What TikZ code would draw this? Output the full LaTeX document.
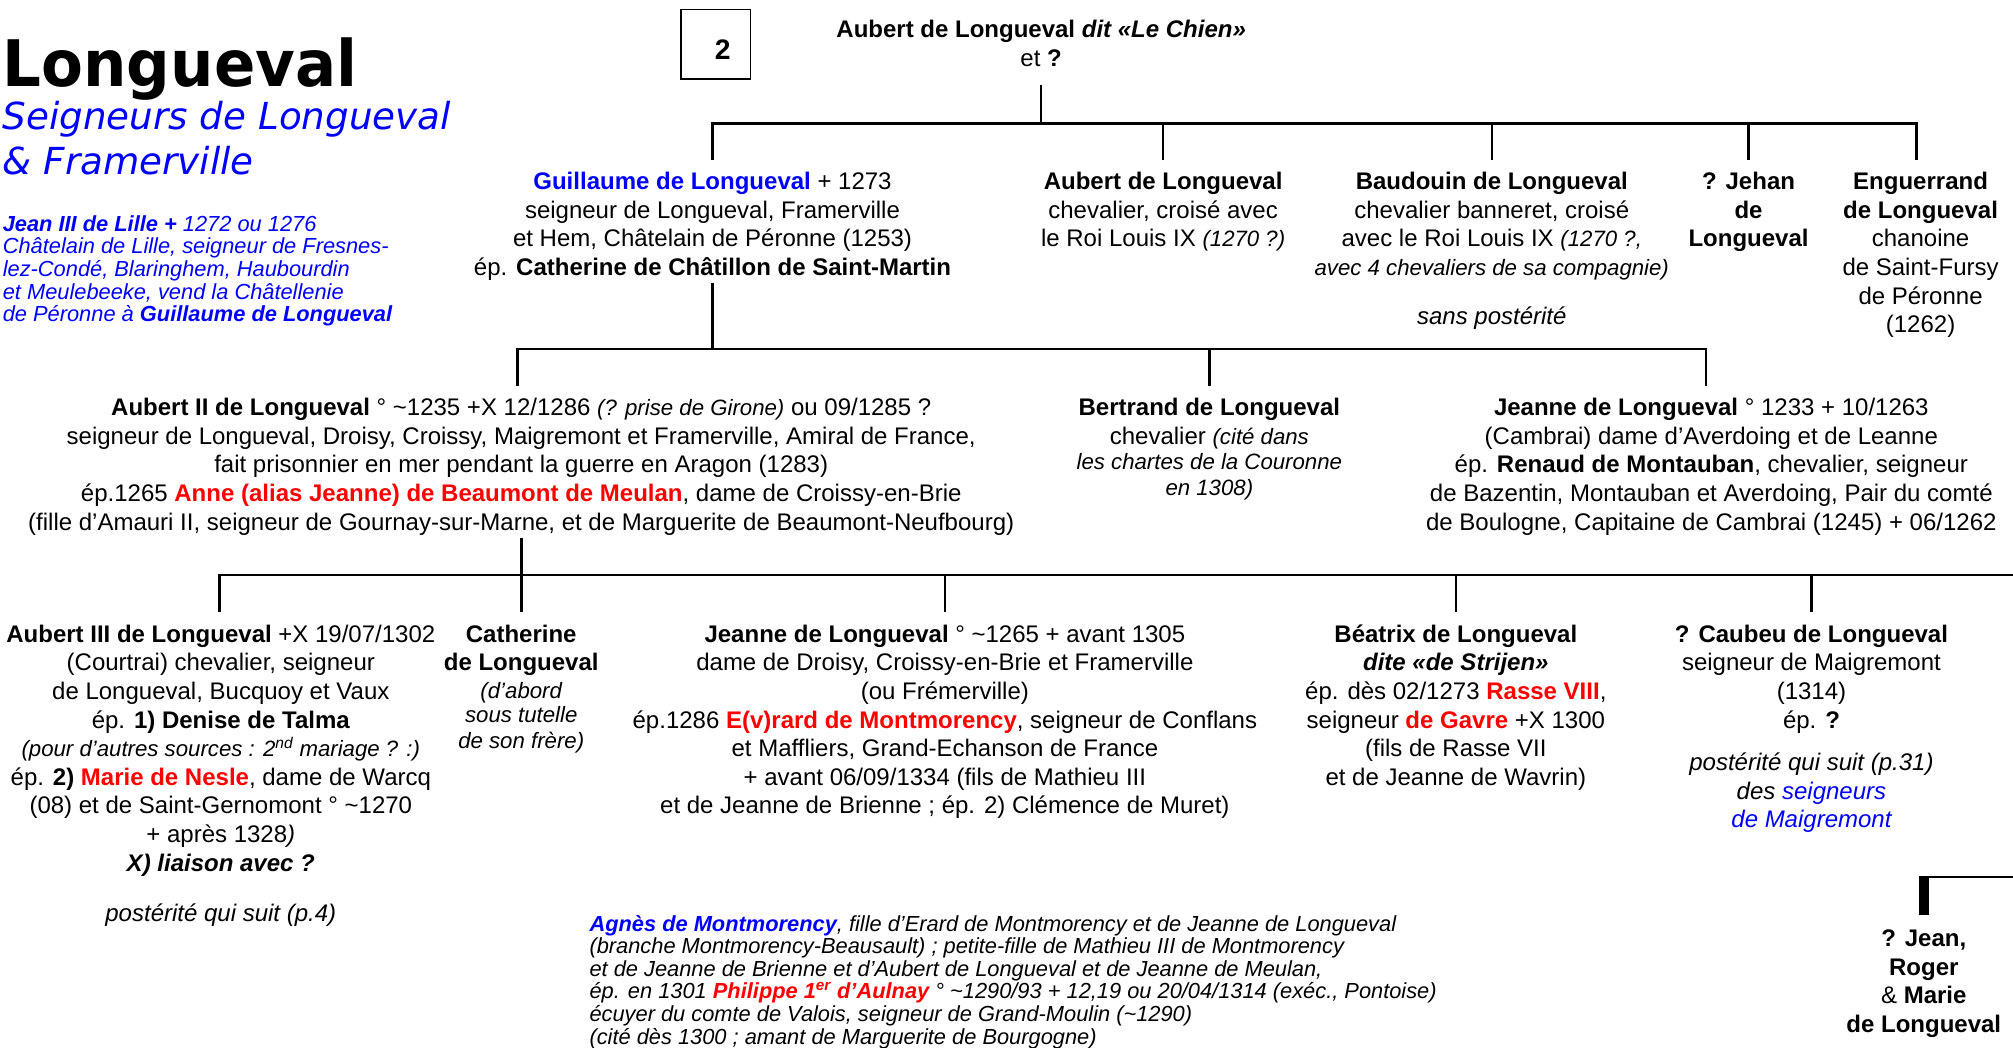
\documentclass[tikz,border=0pt]{standalone}
\usepackage{fontspec}
\setmainfont{Liberation Sans}
\newfontfamily\titlefont{DejaVu Sans}[FakeStretch=0.95]
\newfontfamily\dejavu{DejaVu Sans}
\definecolor{myblue}{RGB}{0,0,255}
\definecolor{myred}{RGB}{255,0,0}
\newcommand\fst{\rule{0pt}{16pt}}
\newcommand\sst{\rule{0pt}{13pt}}
\newcommand\tl{\textasciitilde}
\newcommand\sI[1]{{\fontsize{17.3}{18}\selectfont\itshape #1}}
\newcommand\Rd[1]{\textcolor{myred}{\bfseries #1}}
\newcommand\Bl[1]{\textcolor{myblue}{#1}}
\tikzset{
  person/.style={font=\fontsize{18.7}{22.3}\selectfont, align=center, inner sep=0pt, anchor=north},
  note/.style={font=\fontsize{17}{17.6}\selectfont\itshape, align=left, inner sep=0pt, anchor=north west},
  conn/.style={line width=2pt},
}
\begin{document}
\begin{tikzpicture}[x=1pt,y=-1pt]
\path[fill=white] (0,0) rectangle (1568,816);
\useasboundingbox (0,0) rectangle (1568,816);

% titles
\node[anchor=base west, inner sep=0pt, font=\titlefont\bfseries\fontsize{50}{50}\selectfont] (title) at (2,67) {Longueval};
\node[anchor=north west, inner sep=0pt, align=left, text=myblue, font=\dejavu\itshape\fontsize{29}{34.5}\selectfont] (sub) at (2,77) {\rule{0pt}{24pt}Seigneurs de Longueval\\\& Framerville};
\node[note, text=myblue] (lille) at (2,167) {\sst\textbf{Jean III de Lille +} 1272 ou 1276\\Châtelain de Lille, seigneur de Fresnes-\\lez-Condé, Blaringhem, Haubourdin\\et Meulebeeke, vend la Châtellenie\\de Péronne à \textbf{Guillaume de Longueval}};

% page number box
\node[draw, line width=1.3pt, minimum width=54pt, minimum height=54pt, inner sep=0pt] (box2) at (557.5,34.3) {};
\node[inner sep=0pt, font=\bfseries\fontsize{22}{22}\selectfont] (num2) at (563,39) {2};

% generation 1
\node[person] (top) at (811,13) {\fst\textbf{Aubert de Longueval \textit{dit «Le Chien»}}\\et \textbf{?}};

% generation 2
\node[person] (guill) at (555,131.5) {\fst\Bl{\textbf{Guillaume de Longueval}} + 1273\\seigneur de Longueval, Framerville\\et Hem, Châtelain de Péronne (1253)\\ép. \textbf{Catherine de Châtillon de Saint-Martin}};
\node[person] (aub1) at (906,131.5) {\fst\textbf{Aubert de Longueval}\\chevalier, croisé avec\\le Roi Louis IX \sI{(1270 ?)}};
\node[person] (baud) at (1162,131.5) {\fst\textbf{Baudouin de Longueval}\\chevalier banneret, croisé\\avec le Roi Louis IX \sI{(1270 ?,}\\\sI{avec 4 chevaliers de sa compagnie)}\\[15.7pt]\textit{sans postérité}};
\node[person] (jehan) at (1362,131.5) {\fst\textbf{? Jehan}\\\textbf{de}\\\textbf{Longueval}};
\node[person] (eng) at (1496,131.5) {\fst\textbf{Enguerrand}\\\textbf{de Longueval}\\chanoine\\de Saint-Fursy\\de Péronne\\(1262)};

% generation 3
\node[person] (aub2) at (406,307.5) {\fst\textbf{Aubert II de Longueval} ° \tl1235 +X 12/1286 \sI{(? prise de Girone)} ou 09/1285 ?\\seigneur de Longueval, Droisy, Croissy, Maigremont et Framerville, Amiral de France,\\fait prisonnier en mer pendant la guerre en Aragon (1283)\\ép.1265 \Rd{Anne (alias Jeanne) de Beaumont de Meulan}, dame de Croissy-en-Brie\\(fille d’Amauri II, seigneur de Gournay-sur-Marne, et de Marguerite de Beaumont-Neufbourg)};
\node[person] (bert) at (942,307.5) {\fst\textbf{Bertrand de Longueval}\\chevalier \sI{(cité dans}\\[-2.5pt]\sI{les chartes de la Couronne}\\[-2pt]\sI{en 1308)}};
\node[person] (jeanne1) at (1333,307.5) {\fst\textbf{Jeanne de Longueval} ° 1233 + 10/1263\\(Cambrai) dame d’Averdoing et de Leanne\\ép. \textbf{Renaud de Montauban}, chevalier, seigneur\\de Bazentin, Montauban et Averdoing, Pair du comté\\de Boulogne, Capitaine de Cambrai (1245) + 06/1262};

% generation 4
\node[person] (aub3) at (172,484) {\fst\textbf{Aubert III de Longueval} +X 19/07/1302\\(Courtrai) chevalier, seigneur\\de Longueval, Bucquoy et Vaux\\ép. \textbf{1) Denise de Talma}\\\sI{(pour d’autres sources : 2\textsuperscript{nd} mariage ? :)}\\ép. \textbf{2)} \Rd{Marie de Nesle}, dame de Warcq\\(08) et de Saint-Gernomont ° \tl1270\\+ après 1328\textit{)}\\\textbf{\textit{X) liaison avec ?}}\\[16.7pt]\textit{postérité qui suit (p.4)}};
\node[person] (cath) at (406,484) {\fst\textbf{Catherine}\\\textbf{de Longueval}\\[-1pt]\sI{(d’abord}\\[-3pt]\sI{sous tutelle}\\[-2pt]\sI{de son frère)}};
\node[person] (jeanne2) at (736,484) {\fst\textbf{Jeanne de Longueval} ° \tl1265 + avant 1305\\dame de Droisy, Croissy-en-Brie et Framerville\\(ou Frémerville)\\ép.1286 \Rd{E(v)rard de Montmorency}, seigneur de Conflans\\et Maffliers, Grand-Echanson de France\\+ avant 06/09/1334 (fils de Mathieu III\\et de Jeanne de Brienne ; ép. 2) Clémence de Muret)};
\node[person] (beat) at (1134,484) {\fst\textbf{Béatrix de Longueval}\\\textbf{\textit{dite «de Strijen»}}\\ép. dès 02/1273 \Rd{Rasse VIII},\\seigneur \Rd{de Gavre} +X 1300\\(fils de Rasse VII\\et de Jeanne de Wavrin)};
\node[person] (caub) at (1411,484) {\fst\textbf{? Caubeu de Longueval}\\seigneur de Maigremont\\(1314)\\ép. \textbf{?}\\[10.7pt]\textit{postérité qui suit (p.31)}\\\textit{des \Bl{seigneurs}}\\\textit{\Bl{de Maigremont}}};

% bottom right
\node[person] (jr) at (1498.5,721) {\fst\textbf{? Jean,}\\\textbf{Roger}\\\& \textbf{Marie}\\\textbf{de Longueval}};

% bottom note
\node[note] (agnes) at (459,712) {\sst\Bl{\textbf{Agnès de Montmorency}}, fille d’Erard de Montmorency et de Jeanne de Longueval\\(branche Montmorency-Beausault) ; petite-fille de Mathieu III de Montmorency\\et de Jeanne de Brienne et d’Aubert de Longueval et de Jeanne de Meulan,\\ép. en 1301 \Rd{Philippe 1\textsuperscript{er} d’Aulnay} ° \tl1290/93 + 12,19 ou 20/04/1314 (exéc., Pontoise)\\écuyer du comte de Valois, seigneur de Grand-Moulin (\tl1290)\\(cité dès 1300 ; amant de Marguerite de Bourgogne)};

% connectors family 1
\coordinate (j1) at (811,96);
\draw[conn] (top.south) ++(0,14) -- (j1);
\draw[conn] ([yshift=7pt]guill.north) |- (j1) -| ([xshift=-3pt,yshift=7pt]eng.north);
\foreach \n in {aub1,baud,jehan} \draw[conn] (\n.north |- j1) -- ([yshift=7pt]\n.north);

% family 2
\coordinate (j2) at (555,272);
\draw[conn] (guill.south) ++(0,2) -- (j2);
\draw[conn] ([xshift=-3pt,yshift=7pt]aub2.north) |- (j2) -| ([xshift=-4pt,yshift=7pt]jeanne1.north);
\draw[conn] (bert.north |- j2) -- ([yshift=7pt]bert.north);

% family 3
\coordinate (j3r) at (1568,448);
\draw[conn] (aub2.south) ++(0,2) -- ([yshift=7pt]cath.north);
\draw[conn] ([xshift=-1pt,yshift=7pt]aub3.north) |- (j3r);
\foreach \n in {jeanne2,beat,caub} \draw[conn] (\n.north |- j3r) -- ([yshift=7pt]\n.north);

% bottom right connector
\coordinate (brr) at (1568,683);
\draw[line width=8pt] ([yshift=8pt]jr.north) -- ([yshift=39pt]jr.north);
\draw[conn] ([xshift=3pt,yshift=38pt]jr.north) -- (brr);
\end{tikzpicture}
\end{document}
